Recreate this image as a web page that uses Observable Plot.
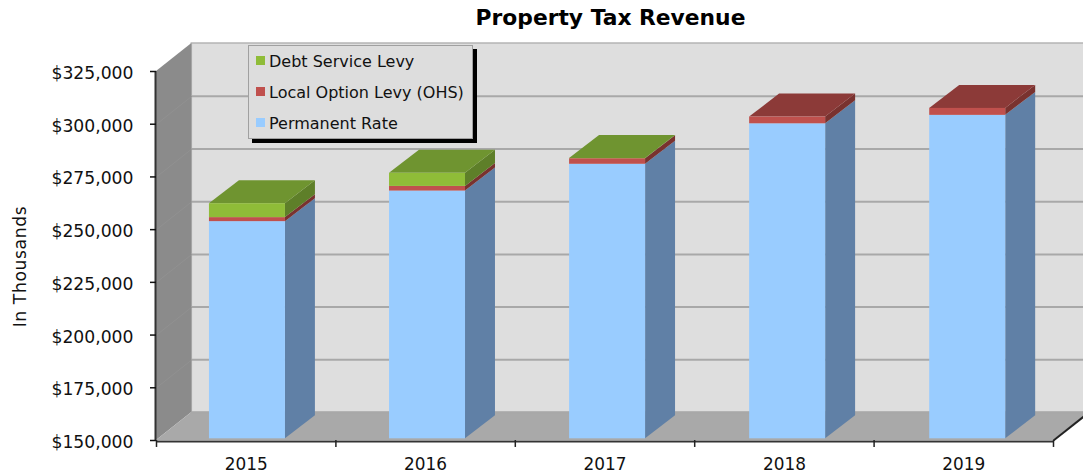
<!DOCTYPE html>
<html><head><meta charset="utf-8">
<script src="https://cdn.jsdelivr.net/npm/d3@7"></script>
<script src="https://cdn.jsdelivr.net/npm/@observablehq/plot@0.6"></script>
<style>
html,body{margin:0;padding:0;background:#fff;overflow:hidden}
#wrap{position:relative;width:1083px;height:474px;font-family:"DejaVu Sans",sans-serif;color:#111}
#title{position:absolute;left:0;width:1221px;top:5px;text-align:center;font-weight:bold;font-size:21.8px;line-height:26px;color:#000}
#legend{position:absolute;left:248px;top:45px;width:223px;height:92px;background:#ddd;border:1px solid #a0a0a0;box-shadow:4px 4px 0 #000}
#legend .s{position:absolute;left:7px;width:9px;height:9px}
#legend .t{position:absolute;left:20px;font-size:16px;line-height:20px;white-space:nowrap;color:#111}
.ylab text{letter-spacing:.6px}
</style></head><body>
<div id="wrap"><div id="chart"></div><div id="title">Property Tax Revenue</div><div id="legend"></div></div>
<script>
const years = ["2015","2016","2017","2018","2019"];
const permanentRate = [253000,267500,280200,299400,303400];
const localOption = [1900,2200,2650,3200,3300];
const debtService = [6600,6200,100,0,0];
const yTicks = [150000,175000,200000,225000,250000,275000,300000,325000];
const seriesNames = ["Permanent Rate","Local Option Levy (OHS)","Debt Service Levy"];
const seriesValues = [permanentRate,localOption,debtService];
const front = ["#99ccff","#c0504d","#8fbc38"];
const side = ["#6080a6","#79322f","#5e7f29"];
const top_ = ["#6080a6","#8c3a38","#6f9430"];

// depth of the box and of each bar, in x/y data units
const wallDX=0.197, wallDY=13270, barDX=0.167, barDY=10900, barW=0.4236, lift=800;
const barCentre=i=>0.507+i*1.0037;
const x0=0,x1=5,yMin=150000,yMax=325000;

const quad=(a,b,fill,id)=>[{...a,fill,id},{...b,fill,id}];
const faces=[], fronts=[], tops=[];
years.forEach((yr,i)=>{
  let base=yMin+lift;
  const l=barCentre(i)-barW/2,r=l+barW;
  let lastTop=0;
  seriesValues.forEach((vals,s)=>{
    const start=base;
    const stop=s===0?vals[i]+lift:base+vals[i];
    if(vals[i]>0){
      fronts.push({x1:l,x2:r,y1:start,y2:stop,fill:front[s]});
      faces.push(...quad({x1:r,y1:start,x2:r,y2:stop},{x1:r+barDX,y1:start+barDY,x2:r+barDX,y2:stop+barDY},side[s],`s${i}${s}`));
      lastTop=s;
    }
    base=stop;
  });
  tops.push(...quad({x1:l,y1:base,x2:r,y2:base},{x1:l+barDX,y1:base+barDY,x2:r+barDX,y2:base+barDY},top_[lastTop],`t${i}`));
});

const leftWall=[{x1:x0,y1:yMin,x2:x0,y2:yMax},{x1:x0+wallDX,y1:yMin+wallDY,x2:x0+wallDX,y2:yMax+wallDY}];
const floor=[{x1:x0,y1:yMin,x2:x1,y2:yMin},{x1:x0+wallDX,y1:yMin+wallDY,x2:x1+wallDX,y2:yMin+wallDY}];
const tickFmt=d3.format("$,");

const chart=Plot.plot({
  width:1083,height:474,marginLeft:156,marginRight:30,marginTop:71,marginBottom:34,
  style:{fontFamily:'"DejaVu Sans",sans-serif',background:"transparent",overflow:"hidden"},
  x:{type:"linear",domain:[x0,x1],axis:null},
  y:{type:"linear",domain:[yMin,yMax],axis:null},
  color:{type:"identity"},
  marks:[
    Plot.rect([0],{x1:x0+wallDX,x2:x1+wallDX,y1:yMin+wallDY,y2:yMax+wallDY,fill:"#dedede",stroke:"#b4b4b4",strokeWidth:1.5}),
    Plot.area(leftWall,{x1:"x1",y1:"y1",x2:"x2",y2:"y2",fill:"#8b8b8b"}),
    Plot.area(floor,{x1:"x1",y1:"y1",x2:"x2",y2:"y2",fill:"#a9a9a9"}),
    Plot.ruleY(yTicks.slice(0,-1),{y:d=>d+wallDY,x1:x0+wallDX,x2:x1+wallDX,stroke:"#a8a8a8",strokeWidth:2}),
    Plot.link(yTicks.slice(1,-1),{x1:x0,y1:d=>d,x2:x0+wallDX,y2:d=>d+wallDY,stroke:"#919191",strokeWidth:1}),
    Plot.area(faces,{x1:"x1",y1:"y1",x2:"x2",y2:"y2",z:"id",fill:"fill"}),
    Plot.area(tops,{x1:"x1",y1:"y1",x2:"x2",y2:"y2",z:"id",fill:"fill"}),
    Plot.rect(fronts,{x1:"x1",x2:"x2",y1:"y1",y2:"y2",fill:"fill"}),
    Plot.link([0],{x1:x1,y1:yMin,x2:x1+wallDX,y2:yMin+wallDY,stroke:"#222",strokeWidth:2}),
    Plot.ruleX([x0],{y1:yMin,y2:yMax,stroke:"#333",strokeWidth:2,dx:-1}),
    Plot.ruleY([yMin],{x1:x0,x2:x1,stroke:"#333",strokeWidth:2,dy:1}),
    Plot.axisY({ticks:yTicks,tickFormat:()=>"",tickSize:6,label:null,stroke:"#111",strokeWidth:1.5}),
    Plot.axisY({ticks:yTicks,tickFormat:tickFmt,tickSize:0,tickPadding:23,dy:2,fontSize:17.2,label:null,fill:"#111"}),
    Plot.ruleX(d3.range(0,6),{x:d=>d,y1:yMin,y2:yMin-3300,stroke:"#222",strokeWidth:1.5}),
    Plot.text(years,{x:(d,i)=>i+0.5,y:yMin,text:d=>d,dy:24,fontSize:16.9,fill:"#111"}),
    Plot.text(["In Thousands"],{x:-0.76,y:232500,rotate:-90,fontSize:17.2,fill:"#111",className:"ylab"})
  ]
});
document.getElementById("chart").appendChild(chart);

const lg=document.getElementById("legend");
[2,1,0].forEach((s,k)=>{
  const sw=document.createElement("div");sw.className="s";sw.style.background=front[s];sw.style.top=(10+k*31)+"px";lg.appendChild(sw);
  const t=document.createElement("div");t.className="t";t.textContent=seriesNames[s];t.style.top=(6+k*31)+"px";lg.appendChild(t);
});
</script></body></html>
